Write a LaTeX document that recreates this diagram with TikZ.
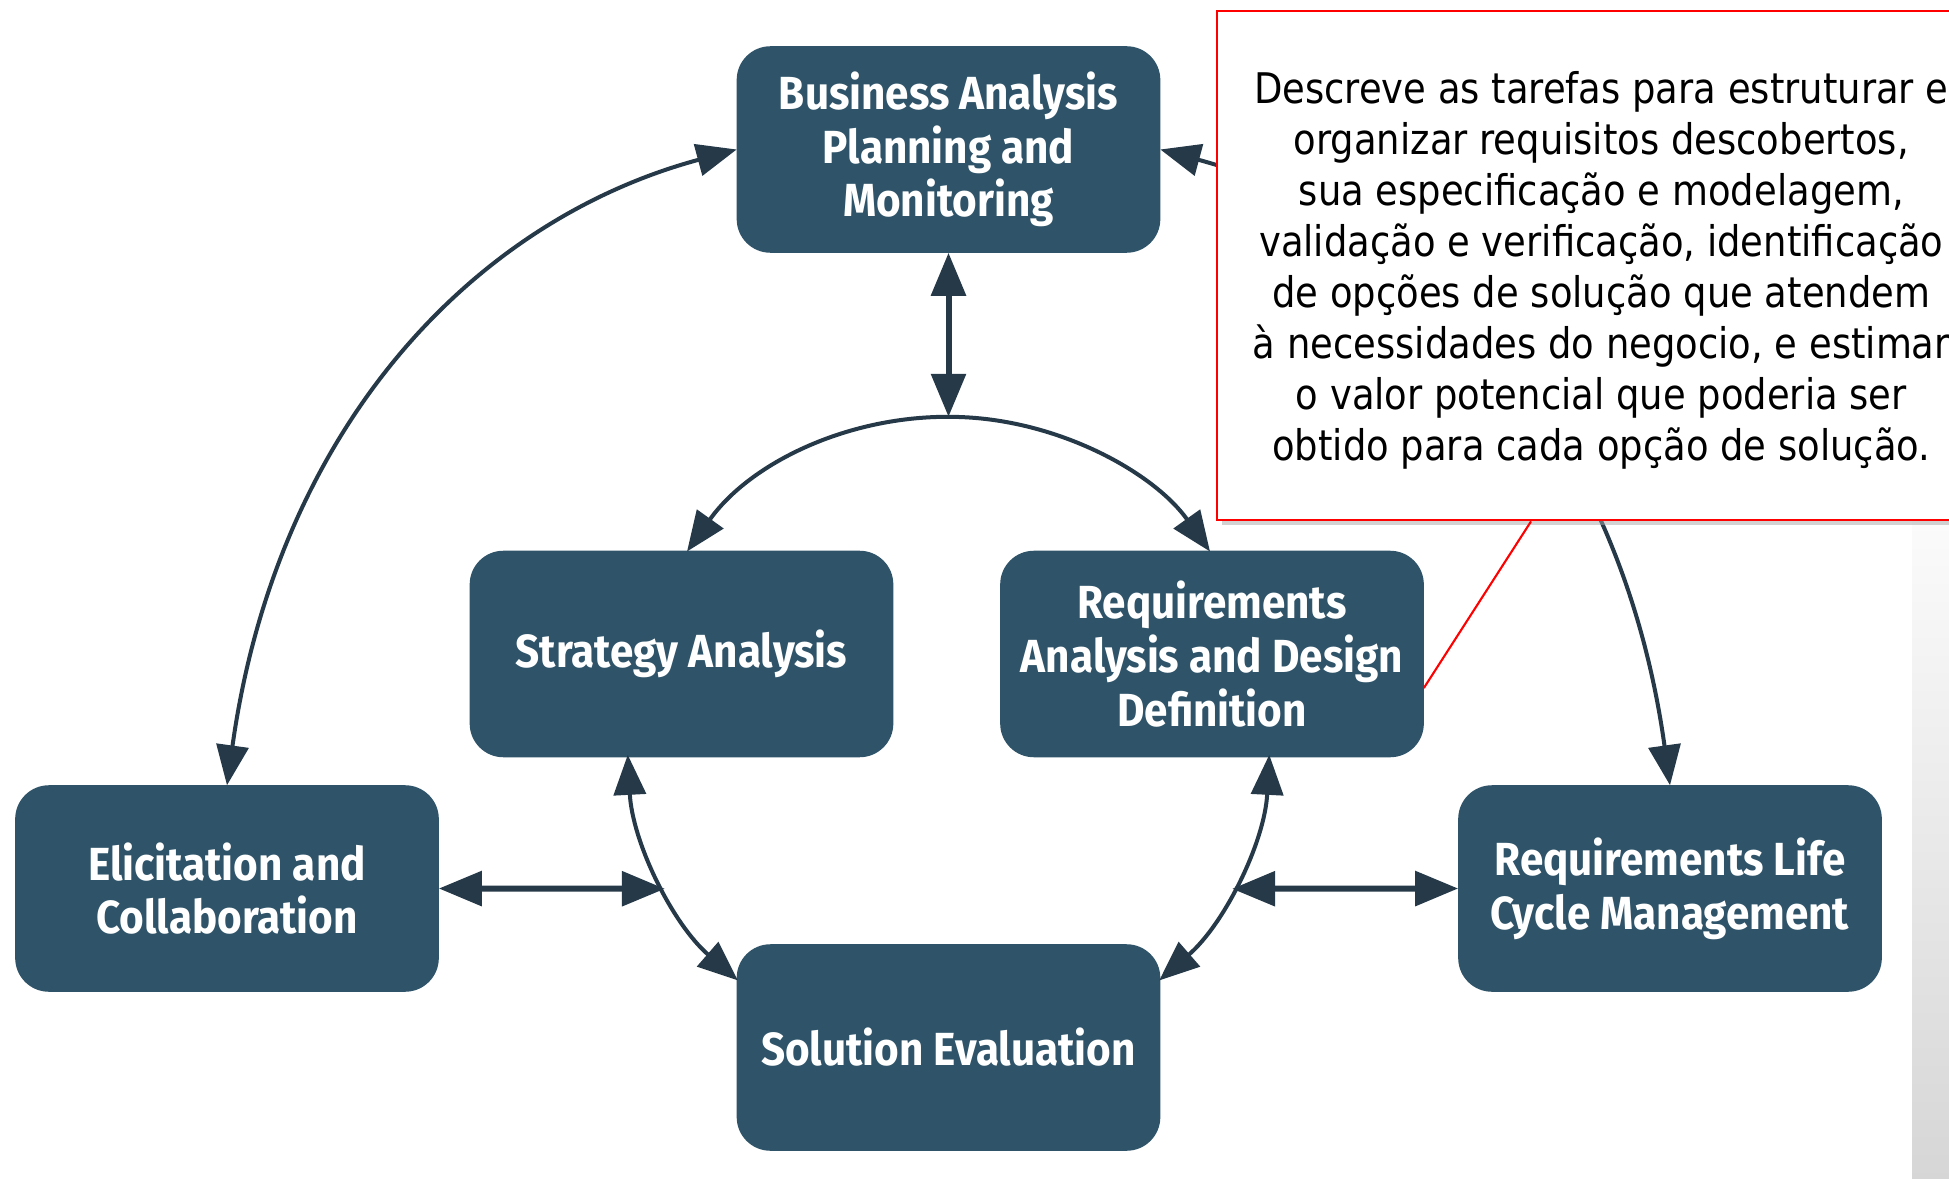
\documentclass[tikz,border=0pt]{standalone}
\usepackage{fontspec}
\usepackage{xcolor}
\usepackage{tikz}
\usetikzlibrary{arrows.meta,calc,positioning,shadows}
\newfontfamily\boxfont[FakeStretch=0.91]{Fira Sans}
\newfontfamily\notefont[FakeStretch=0.875]{DejaVu Sans}
\definecolor{kafill}{RGB}{47,84,105}
\definecolor{kalink}{RGB}{37,57,73}
\newcommand{\InnerR}{3.21cm}
\tikzset{
  ka/.style={rounded corners=0.33cm, fill=kafill, draw=kafill, text=white,
    minimum width=4.22cm, minimum height=2.05cm, inner sep=0pt, align=center,
    font=\boxfont\bfseries\fontsize{13.2}{15.3}\selectfont},
  link/.style={draw=kalink, line width=0.6mm,
    arrows={Triangle[length=4.3mm,width=3.4mm]-Triangle[length=4.3mm,width=3.4mm]}},
  ring/.style={draw=kalink, line width=0.4mm,
    arrows={Triangle[length=4mm,width=3.2mm]-Triangle[length=4mm,width=3.2mm]}},
  notebox/.style={draw=red, line width=0.6pt, fill=white, inner sep=0pt,
    minimum width=7.68cm, minimum height=5.09cm, align=center,
    drop shadow={shadow xshift=0.05cm, shadow yshift=-0.05cm, fill=black!35, opacity=0.5},
    font=\notefont\fontsize{12}{14.5}\selectfont},
  notelead/.style={draw=red, line width=0.6pt}
}

\begin{document}
\begin{tikzpicture}[x=0.01cm, y=0.01cm]
  \useasboundingbox (0,0) rectangle (1949,1178);
  \clip (0,0) rectangle (1949,1178);
  \fill[white] (0,0) rectangle (1949,1178);
  % slide edge
  \shade[top color=white, bottom color=black!16] (1912,0) rectangle (1949,728);
  % knowledge areas
  \node[ka] (bapm) at (948.5,1028.5) {Business Analysis\\Planning and\\Monitoring};
  \node[ka] (strat) at (681.5,524) {Strategy Analysis};
  \node[ka] (radd) at (1212,524) {Requirements\\Analysis and Design\\Definition};
  \node[ka] (elic) at (227,289.5) {Elicitation and\\Collaboration};
  \node[ka] (rlcm) at (1670,289.5) {Requirements Life\\Cycle Management};
  \node[ka] (soleval) at (948.5,130.5) {Solution Evaluation};
  % outer ring
  \draw[ring] (elic.north) .. controls (276,744) and (468,956) .. (bapm.west);
  \draw[ring] (rlcm.north) .. controls (1621,744) and (1429,956) .. (bapm.east);
  % inner ring
  \coordinate (C) at (948.5,440);
  \coordinate (junc) at ($(C)+(90:\InnerR)$);
  \coordinate (saTop) at ($(C)+(144.5:\InnerR)$);
  \coordinate (saBot) at ($(C)+(183:\InnerR)$);
  \coordinate (rdBot) at ($(C)+(-3:\InnerR)$);
  \coordinate (lj) at ($(C)+(208:\InnerR)$);
  \coordinate (rj) at ($(C)+(-28:\InnerR)$);
  \draw[link] (bapm.south) -- (junc);
  \draw[ring] (saTop) arc[start angle=144.5, end angle=35.5, radius=\InnerR];
  \draw[ring] (saBot) arc[start angle=183, end angle=229, radius=\InnerR];
  \draw[ring] (rdBot) arc[start angle=-3, end angle=-49, radius=\InnerR];
  \draw[link] (elic.east) -- (lj);
  \draw[link] (rj) -- (rlcm.west);
  % callout
  \node[notebox, anchor=north west] (note) at (1216,1168) {\rule{0pt}{12pt}Descreve as tarefas para estruturar e\\
    organizar requisitos descobertos,\\
    sua especificação e modelagem,\\
    validação e verificação, identificação\\
    de opções de solução que atendem\\
    à necessidades do negocio, e estimar\\
    o valor potencial que poderia ser\\
    obtido para cada opção de solução.};
  \coordinate (leadTip) at ($(radd.east)+(0,-34)$);
  \draw[notelead] ($(note.south west)+(315,0)$) -- (leadTip);
\end{tikzpicture}
\end{document}
